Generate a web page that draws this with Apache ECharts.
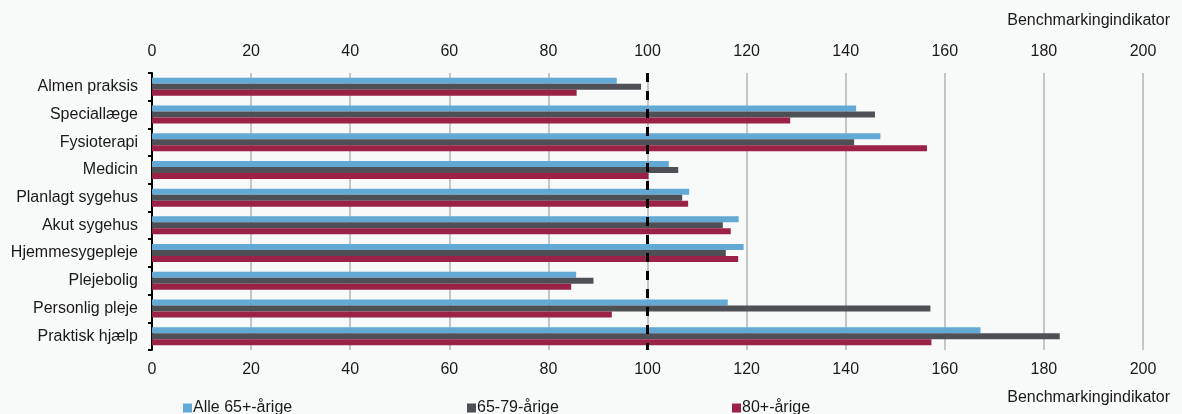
<!DOCTYPE html>
<html>
<head>
<meta charset="utf-8">
<script src="https://cdn.jsdelivr.net/npm/echarts@6/dist/echarts.min.js"></script>
<style>
html,body{margin:0;padding:0;background:#f8f9f9;}
#chart{width:1182px;height:414px;}
</style>
</head>
<body>
<div id="chart"></div>
<script>
const categories = ['Almen praksis','Speciallæge','Fysioterapi','Medicin','Planlagt sygehus','Akut sygehus','Hjemmesygepleje','Plejebolig','Personlig pleje','Praktisk hjælp'];
const seriesNames = ['Alle 65+-årige','65-79-årige','80+-årige'];
const alle65 = [93.8,142.1,147.0,104.3,108.4,118.4,119.4,85.6,116.2,167.2];
const aar6579 = [98.7,145.9,141.7,106.2,107.0,115.2,115.8,89.1,157.1,183.2];
const aar80 = [85.7,128.8,156.4,100.2,108.2,116.8,118.3,84.6,92.8,157.3];
const xTicks = {min:0, max:200, interval:20};
const refValue = 100;
const axisTitle = 'Benchmarkingindikator';

const colors = ['#62a9d5','#4f5056','#9b2247'];
const font = 'Liberation Sans, Arial, sans-serif';
const chart = echarts.init(document.getElementById('chart'), null, {renderer:'canvas'});

const xBase = {
  type:'value', min:xTicks.min, max:xTicks.max, interval:xTicks.interval,
  axisLine:{show:false}, axisTick:{show:false},
  axisLabel:{color:'#1a1a1a', fontSize:16, fontFamily:font}
};

const data = [alle65, aar6579, aar80];
const series = seriesNames.map((n,i)=>({
  name:n, type:'bar', data:data[i], barWidth:6, barGap:'0%', barCategoryGap:'33%',
  itemStyle:{color:colors[i]}, xAxisIndex:0, yAxisIndex:0,
  z:2
}));
series[0].markLine = {
  silent:true, symbol:['none','none'], label:{show:false},
  lineStyle:{color:'#000', type:[9,9], width:3},
  data:[{xAxis:refValue}], z:5
};

chart.setOption({
  backgroundColor:'#f8f9f9',
  animation:false,
  grid:{left:152, right:39, top:73, bottom:64, containLabel:false},
  xAxis:[
    Object.assign({}, xBase, {position:'bottom', axisLabel:Object.assign({}, xBase.axisLabel, {margin:12}),
      splitLine:{show:true, lineStyle:{color:'#b3b3b3', width:1.5}}}),
    Object.assign({}, xBase, {position:'top', axisLabel:Object.assign({}, xBase.axisLabel, {margin:13}),
      splitLine:{show:false}})
  ],
  yAxis:{
    type:'category', data:categories, inverse:true,
    axisLine:{show:true, lineStyle:{color:'#000', width:2}},
    axisTick:{show:true, length:4, lineStyle:{color:'#000', width:2}},
    axisLabel:{color:'#1a1a1a', fontSize:16, fontFamily:font, margin:14}
  },
  legend:[
    {data:[seriesNames[0]], left:183, top:400},
    {data:[seriesNames[1]], left:467, top:400},
    {data:[seriesNames[2]], left:732, top:400}
  ].map(l=>Object.assign(l,{icon:'rect', itemWidth:9, itemHeight:9, padding:0,
      textStyle:{color:'#1a1a1a', fontSize:16, fontFamily:font, padding:[0,0,0,-4]}})),
  graphic:[
    {type:'text', right:12, top:13, style:{text:axisTitle, fill:'#1a1a1a', font:'16px '+font}},
    {type:'text', right:12, top:390, style:{text:axisTitle, fill:'#1a1a1a', font:'16px '+font}}
  ],
  series:series
});
</script>
</body>
</html>
